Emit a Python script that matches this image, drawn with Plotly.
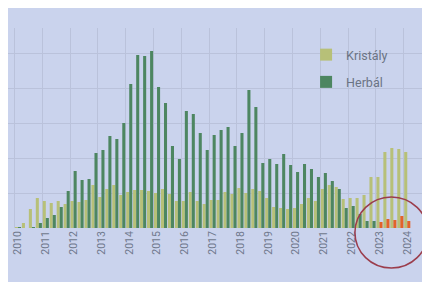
import plotly.graph_objects as go

years = [2010, 2011, 2012, 2013, 2014, 2015, 2016, 2017, 2018, 2019, 2020, 2021, 2022, 2023, 2024]
year_labels = [str(y) for y in years]
quarters = [y + q / 4 for y in range(2010, 2025) for q in range(4)][:57]

kristaly = [1, 5, 19, 30, 27, 25, 27, 24, 27, 26, 28, 43, 31, 39, 43, 33,
            36, 38, 38, 37, 35, 39, 34, 27, 27, 36, 27, 24, 28, 28, 36, 34,
            40, 35, 39, 37, 30, 21, 20, 19, 20, 24, 30, 27, 39, 43, 41, 29,
            30, 30, 33, 51, 51, 76, 80, 79, 76]
herbal = [0.5, 0, 1, 5, 10, 13, 21, 37, 57, 48, 49, 75, 78, 92, 89, 105,
          144, 173, 172, 177, 141, 125, 82, 69, 117, 114, 95, 78, 93, 98, 101, 82,
          95, 138, 121, 65, 69, 64, 74, 63, 56, 64, 59, 51, 55, 47, 39, 20,
          22, 14, 7, 7, 6, 9, 8, 12, 7]

C_K = "#b7c078"
C_H = "#4d8661"
C_O = "#e2632a"
herbal_colors = [C_O if x >= 2023 else C_H for x in quarters]

fig = go.Figure()
fig.add_trace(go.Bar(x=quarters, y=kristaly, name="Kristály", marker_color=C_K,
                     marker_line_width=0, legendgroup="k"))
fig.add_trace(go.Bar(x=quarters, y=herbal, name="Herbál", marker_color=herbal_colors,
                     marker_line_width=0, legendgroup="h"))

bg = "#cad3ed"
fig.update_layout(
    width=430, height=282,
    margin=dict(l=0, r=16, t=20, b=62),
    paper_bgcolor=bg, plot_bgcolor=bg,
    barmode="group", bargap=0.12, bargroupgap=0,
    font=dict(family="Roboto, Arial, sans-serif", color="#6a7384"),
    legend=dict(x=0.72, y=0.94, xanchor="left", yanchor="top",
                bgcolor="rgba(0,0,0,0)", font=dict(size=12.5, color="#6a7384"),
                itemwidth=30, tracegroupgap=8),
    xaxis=dict(range=[2009.64, 2024.53], tickmode="array", tickvals=years,
               ticktext=year_labels, tickangle=-90, tickfont=dict(size=10.5, color="#6f788c"),
               showgrid=False, zeroline=False, showline=False, ticks="",
               minor=dict(tickvals=[y - 0.125 for y in years], showgrid=True,
                          gridcolor="#bac2db", gridwidth=1)),
    yaxis=dict(range=[0, 200], dtick=35, showticklabels=False, showgrid=True,
               gridcolor="#bac2db", gridwidth=1, zeroline=False, showline=False),
    shapes=[dict(type="circle", xref="paper", yref="paper",
                 x0=0.838, x1=1.014, y0=-0.2, y1=0.155,
                 line=dict(color="#9b3d4c", width=1.5))],
)

fig.write_html("out.html")
